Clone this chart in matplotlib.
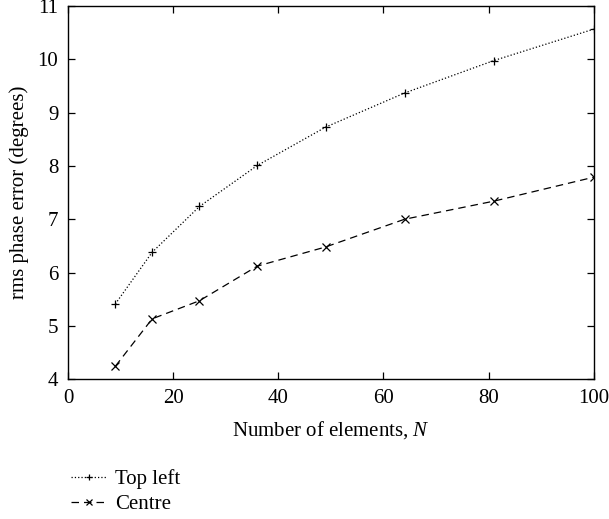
import numpy as np
import matplotlib
matplotlib.use('Agg')
import matplotlib.pyplot as plt

plt.rcParams['font.family'] = ['Liberation Serif', 'DejaVu Serif']
plt.rcParams['mathtext.fontset'] = 'custom'
plt.rcParams['mathtext.rm'] = 'Liberation Serif'
plt.rcParams['mathtext.it'] = 'Liberation Serif:italic'

# number of elements
N = [9, 16, 25, 36, 49, 64, 81, 100]
# rms phase error (degrees)
top_left = [5.41, 6.38, 7.24, 8.01, 8.73, 9.37, 9.98, 10.57]
centre = [4.24, 5.13, 5.47, 6.12, 6.48, 7.00, 7.34, 7.79]

fig = plt.figure(figsize=(6.09, 5.19), dpi=100)
ax = fig.add_axes([0.1117, 0.2697, 0.8633, 0.7183])

ax.plot(N, top_left, ls=':', color='k', lw=0.9, marker='+', ms=6, mew=0.9, label='Top left')
ax.plot(N, centre, ls=(0, (6, 4)), color='k', lw=0.9, marker='x', ms=6, mew=0.9, label='Centre')

ax.set_xlim(0, 100)
ax.set_ylim(4, 11)
ax.set_xticks(np.arange(0, 101, 20))
ax.set_yticks(np.arange(4, 12, 1))
ax.tick_params(direction='in', top=True, right=True, labelsize=15, length=5, width=0.9)
ax.tick_params(axis='x', pad=7)
ax.tick_params(axis='y', pad=7)
for s in ax.spines.values():
    s.set_linewidth(1.0)
ax.set_xlabel('Number of elements, $\\mathit{N}$', fontsize=15, labelpad=8)
ax.set_ylabel('rms phase error (degrees)', fontsize=15, labelpad=6)

fig.legend(loc='upper left', bbox_to_anchor=(0.103, 0.112), frameon=False, fontsize=15,
           handlelength=1.7, handletextpad=0.4, labelspacing=0.25, borderaxespad=0,
           markerscale=0.8)

fig.savefig('out.png', dpi=100)
